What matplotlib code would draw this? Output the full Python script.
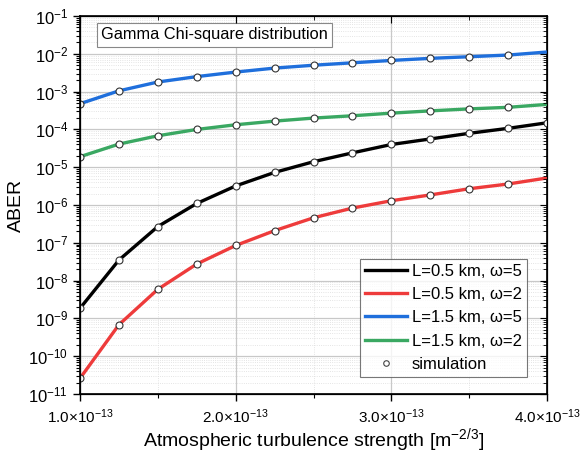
import numpy as np
import matplotlib
matplotlib.use("Agg")
import matplotlib.pyplot as plt
from matplotlib.ticker import LogLocator, NullFormatter, FixedLocator

plt.rcParams['font.family'] = ['Liberation Sans', 'DejaVu Sans']
plt.rcParams['mathtext.fontset'] = 'custom'
plt.rcParams['mathtext.rm'] = 'Liberation Sans'
plt.rcParams['mathtext.it'] = 'Liberation Sans:italic'

# --- data ---
cn2 = [1.0e-13, 1.25e-13, 1.5e-13, 1.75e-13, 2.0e-13, 2.25e-13, 2.5e-13,
       2.75e-13, 3.0e-13, 3.25e-13, 3.5e-13, 3.75e-13, 4.0e-13]

aber_L05_w5 = [1.85e-9, 3.5e-8, 2.7e-7, 1.1e-6, 3.2e-6, 7.3e-6, 1.4e-5,
               2.4e-5, 4.0e-5, 5.6e-5, 7.9e-5, 1.07e-4, 1.5e-4]
aber_L05_w2 = [2.6e-11, 6.8e-10, 5.9e-9, 2.75e-8, 8.5e-8, 2.1e-7, 4.6e-7,
               8.3e-7, 1.3e-6, 1.85e-6, 2.7e-6, 3.6e-6, 5.2e-6]
aber_L15_w5 = [4.8e-4, 1.05e-3, 1.8e-3, 2.5e-3, 3.3e-3, 4.2e-3, 5.0e-3,
               5.8e-3, 6.7e-3, 7.6e-3, 8.4e-3, 9.3e-3, 1.12e-2]
aber_L15_w2 = [1.9e-5, 4.1e-5, 6.8e-5, 1.0e-4, 1.33e-4, 1.66e-4, 2.0e-4,
               2.3e-4, 2.7e-4, 3.1e-4, 3.5e-4, 3.85e-4, 4.6e-4]

# simulation points: every step up to 3.75e-13 (black one also at 4.0e-13)
sim_n = [13, 12, 12, 12]

labels = ['L=0.5 km, \u03c9=5', 'L=0.5 km, \u03c9=2',
          'L=1.5 km, \u03c9=5', 'L=1.5 km, \u03c9=2']
colors = ['black', '#ee3b3b', '#1f6fdc', '#3aa862']
series = [aber_L05_w5, aber_L05_w2, aber_L15_w5, aber_L15_w2]

xticks = [1.0e-13, 2.0e-13, 3.0e-13, 4.0e-13]
xtick_labels = [r'$1.0{\times}10^{-13}$', r'$2.0{\times}10^{-13}$',
                r'$3.0{\times}10^{-13}$', r'$4.0{\times}10^{-13}$']

fig = plt.figure(figsize=(5.81, 4.59), dpi=100)
ax = fig.add_axes([0.1377, 0.1416, 0.8038, 0.8234])

for y, c, lab in zip(series, colors, labels):
    ax.plot(cn2, y, color=c, lw=2.4, label=lab, zorder=3)
for y, n in zip(series, sim_n):
    ax.plot(cn2[:n], y[:n], ls='none', marker='o', ms=5, mfc='white',
            mec='#333333', mew=0.8, zorder=4)
ax.plot([], [], ls='none', marker='o', ms=4, mfc='white', mec='#444444',
        mew=0.8, label='simulation')

ax.set_yscale('log')
ax.set_xlim(1.0e-13, 4.0e-13)
ax.set_ylim(1e-11, 1e-1)
ax.yaxis.set_major_locator(LogLocator(base=10, numticks=20))
ax.yaxis.set_minor_locator(LogLocator(base=10, subs=np.arange(2, 10), numticks=20))
ax.yaxis.set_minor_formatter(NullFormatter())
ax.set_xticks(xticks)
ax.set_xticklabels(xtick_labels)
ax.xaxis.set_minor_locator(FixedLocator([1.5e-13, 2.5e-13, 3.5e-13]))

ax.grid(which='major', color='#c8c8c8', lw=0.9, ls='-')
ax.grid(which='minor', color='#dcdcdc', lw=0.6, ls=':')

ax.tick_params(which='both', direction='out')
ax.tick_params(axis='y', labelsize=12)
ax.tick_params(axis='x', labelsize=11)
ax.tick_params(which='major', length=5, width=1)
ax.tick_params(which='minor', length=3, width=0.8)
ax.tick_params(axis='x', which='major', pad=5)
for s in ax.spines.values():
    s.set_linewidth(1.2)

# mirrored ticks on top/right, pointing in
axr = ax.twinx()
axr.set_yscale('log')
axr.set_ylim(ax.get_ylim())
axr.yaxis.set_major_locator(LogLocator(base=10, numticks=20))
axr.yaxis.set_minor_locator(LogLocator(base=10, subs=np.arange(2, 10), numticks=20))
axr.tick_params(which='both', direction='in', labelright=False)
axr.tick_params(which='major', length=5)
axr.tick_params(which='minor', length=3)
axt = ax.twiny()
axt.set_xlim(ax.get_xlim())
axt.set_xticks(xticks)
axt.xaxis.set_minor_locator(FixedLocator([1.5e-13, 2.5e-13, 3.5e-13]))
axt.tick_params(which='both', direction='in', labeltop=False)
axt.tick_params(which='major', length=5)
axt.tick_params(which='minor', length=3)

ax.set_xlabel('Atmospheric turbulence strength [m$^{-2/3}$]', fontsize=14, labelpad=0)
ax.set_ylabel('ABER', fontsize=14, labelpad=2)

ax.text(0.045, 0.95, 'Gamma Chi-square distribution', transform=ax.transAxes,
        fontsize=11.8, va='center', ha='left',
        bbox=dict(boxstyle='square,pad=0.25', fc='white', ec='#888888', lw=0.8))

leg = ax.legend(loc='lower right', bbox_to_anchor=(0.957, 0.045), fontsize=12,
                frameon=True, fancybox=False, edgecolor='#555555',
                handlelength=2.5, borderpad=0.3, labelspacing=0.5,
                handletextpad=0.3, borderaxespad=0.0)
leg.get_frame().set_linewidth(0.8)
leg.set_zorder(10)

fig.savefig('out.png', dpi=100)
